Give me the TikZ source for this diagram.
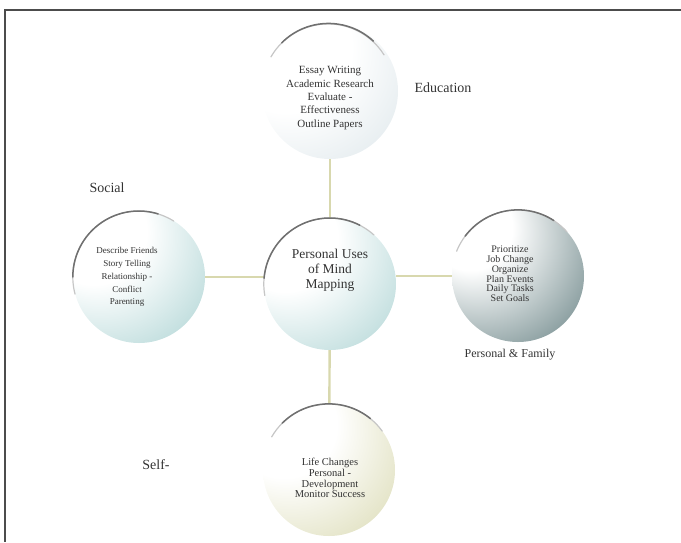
\documentclass[tikz,border=0pt]{standalone}
\usepackage{fontspec}
\setmainfont{Liberation Serif}
\definecolor{rimgray}{HTML}{707070}
\definecolor{linkolive}{HTML}{D8D8AE}
\definecolor{eduC}{HTML}{CCDAE0}
\definecolor{socC}{HTML}{8CC2C2}
\definecolor{midC}{HTML}{90C4C4}
\definecolor{famC}{HTML}{34575A}
\definecolor{selfC}{HTML}{CCCC96}
\pgfdeclareradialshading{eduS}{\pgfpoint{-22bp}{22bp}}{color(0bp)=(white); color(24bp)=(white); color(64bp)=(eduC); color(90bp)=(eduC)}
\pgfdeclareradialshading{socS}{\pgfpoint{-22bp}{22bp}}{color(0bp)=(white); color(20bp)=(white); color(62bp)=(socC); color(90bp)=(socC)}
\pgfdeclareradialshading{midS}{\pgfpoint{-22bp}{22bp}}{color(0bp)=(white); color(20bp)=(white); color(62bp)=(midC); color(90bp)=(midC)}
\pgfdeclareradialshading{famS}{\pgfpoint{-22bp}{22bp}}{color(0bp)=(white); color(16bp)=(white); color(62bp)=(famC); color(90bp)=(famC)}
\pgfdeclareradialshading{selfS}{\pgfpoint{-22bp}{22bp}}{color(0bp)=(white); color(20bp)=(white); color(62bp)=(selfC); color(90bp)=(selfC)}
\tikzset{
  bubble/.style={circle, minimum size=132pt, inner sep=0pt, shade, shading=#1},
  btext/.style={align=center, text=black!80, inner sep=0pt},
  rim/.style={draw=rimgray, line width=1.5pt, line cap=round},
  link/.style={draw=linkolive, line width=2.4pt},
  tag/.style={font=\fontsize{14}{16}\selectfont, text=black!80},
  frame/.style={draw=black!70, line width=1.6pt}
}
\begin{document}
\begin{tikzpicture}[x=1pt, y=-1pt]
\useasboundingbox (0,0) rectangle (681,542);
\draw[frame] (681,10) -- (5,10) -- (5,542);
% circles
\node[bubble=eduS, minimum size=136pt] (edu) at (330,91) {};
\node[bubble=midS] (mid) at (330,284) {};
\node[bubble=socS] (soc) at (139,277) {};
\node[bubble=famS] (fam) at (518,276) {};
\node[bubble=selfS] (self) at (329,470) {};
% connectors
\draw[link] (edu) -- (mid);
\draw[link] (mid) -- (self);
\draw[link] (soc.east) -- (soc.east -| mid.west);
\draw[link] (fam.west) -- (fam.west -| mid.east);
% rims
\foreach \n/\a/\b in {edu/150/32, mid/190/48, soc/195/58, fam/158/42, self/150/36} {
  \draw[rim, draw=rimgray!40, line width=1.2pt] (\n.\a) arc[start angle=\a, end angle=\b, radius=66pt];
  \draw[rim] (\n.\a-15) arc[start angle=\a-15, end angle=\b+15, radius=66pt];
}
% texts
\node[btext, font=\fontsize{11}{13.4}\selectfont] (eduT) at (330,98) {Essay Writing\\Academic Research\\Evaluate -\\Effectiveness\\Outline Papers};
\node[btext, font=\fontsize{13.5}{14.8}\selectfont] (midT) at (330,270) {Personal Uses\\of Mind\\Mapping};
\node[btext, font=\fontsize{9}{12.9}\selectfont] (socT) at (127,277) {Describe Friends\\Story Telling\\Relationship -\\Conflict\\Parenting};
\node[btext, font=\fontsize{10}{9.8}\selectfont] (famT) at (510,274) {Prioritize\\Job Change\\Organize\\Plan Events\\Daily Tasks\\Set Goals};
\node[btext, font=\fontsize{10.5}{10.8}\selectfont] (selfT) at (330,478) {Life Changes\\Personal -\\Development\\Monitor Success};
% labels
\node[tag] (eduL) at (443,88) {Education};
\node[tag] (socL) at (107,188) {Social};
\node[tag] (famL) at (510,355) {\fontsize{12}{14}\selectfont Personal \& Family};
\node[tag] (selfL) at (156,465) {Self-};
\end{tikzpicture}
\end{document}
